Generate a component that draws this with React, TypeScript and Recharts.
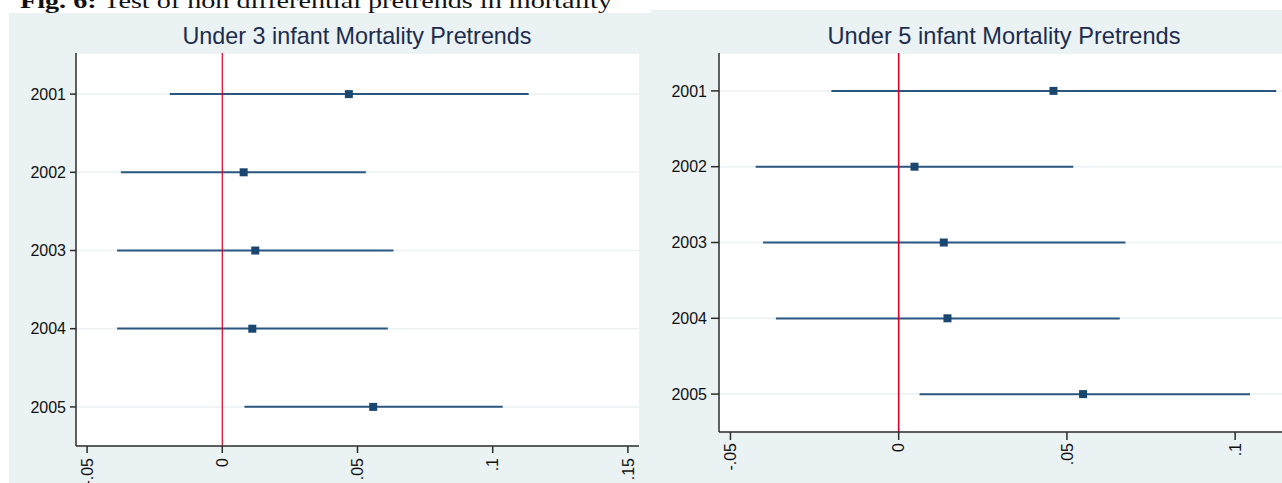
import React from "react";
import {
  ComposedChart,
  Bar,
  Line,
  XAxis,
  YAxis,
  CartesianGrid,
  ReferenceLine,
} from "recharts";

// Pretrend coefficients with 95% confidence bounds, by birth year
const years = ["2001", "2002", "2003", "2004", "2005"];

const u3Coef = [0.0468, 0.0079, 0.0122, 0.0111, 0.0558];
const u3Lower = [-0.0194, -0.0375, -0.0389, -0.0389, 0.0082];
const u3Upper = [0.1133, 0.0531, 0.0633, 0.0612, 0.1037];

const u5Coef = [0.046, 0.0047, 0.0134, 0.0145, 0.0548];
const u5Lower = [-0.02, -0.0425, -0.0403, -0.0365, 0.0062];
const u5Upper = [0.1122, 0.0519, 0.0674, 0.0657, 0.1044];

const u3Ticks = [-0.05, 0, 0.05, 0.1, 0.15];
const u5Ticks = [-0.05, 0, 0.05, 0.1];

const NAVY = "#1a476f";
const BG = "#eaf2f3";
const FONT = "'Liberation Sans', Arial, sans-serif";

const buildRows = (coef: number[], lo: number[], hi: number[]) =>
  years.map((year, i) => ({ year, coef: coef[i], ci: [lo[i], hi[i]] }));

// stata style numbers: .05, -.05, 0
const fmt = (v: number) => {
  if (v === 0) return "0";
  const s = String(Math.abs(v)).replace(/^0/, "");
  return (v < 0 ? "-" : "") + s;
};

const RotTick = (props: any) => {
  const { x, y, payload } = props;
  return (
    <text
      x={x}
      y={y}
      transform={`rotate(-90, ${x}, ${y})`}
      textAnchor="end"
      dy="0.35em"
      fontSize={16}
      fontFamily={FONT}
      fill="#111"
    >
      {fmt(payload.value)}
    </text>
  );
};

const SquareDot = (props: any) => {
  const { cx, cy, index } = props;
  if (cx == null || cy == null) return <g key={index} />;
  return <rect key={index} x={cx - 4} y={cy - 4} width={8} height={8} fill={NAVY} />;
};

interface PanelProps {
  left: number;
  top: number;
  width: number;
  height: number;
  title: string;
  titleX: number;
  titleY: number;
  titleLen: number;
  data: { year: string; coef: number; ci: number[] }[];
  domain: [number, number];
  ticks: number[];
  yWidth: number;
  xHeight: number;
  marginTop: number;
  marginRight: number;
  bandPad: number;
  xTickSize: number;
  xTickMargin: number;
  yTickSize: number;
  redWidth: number;
}

const Panel: React.FC<PanelProps> = (p) => (
  <div
    style={{
      position: "absolute",
      left: p.left,
      top: p.top,
      width: p.width,
      height: p.height,
      background: BG,
    }}
  >
    <svg
      width={p.width}
      height={p.marginTop}
      style={{ position: "absolute", left: 0, top: 0 }}
    >
      <text
        x={p.titleX}
        y={p.titleY}
        textAnchor="middle"
        fontSize={24}
        fontFamily={FONT}
        fill="#1c2c4e"
        textLength={p.titleLen}
        lengthAdjust="spacingAndGlyphs"
      >
        {p.title}
      </text>
    </svg>
    <ComposedChart
      layout="vertical"
      width={p.width}
      height={p.height}
      data={p.data}
      margin={{ top: p.marginTop, right: p.marginRight, bottom: 0, left: 0 }}
    >
      <CartesianGrid
        vertical={false}
        stroke={BG}
        strokeWidth={1.5}
        fill="#ffffff"
      />
      <XAxis
        type="number"
        domain={p.domain}
        ticks={p.ticks}
        allowDataOverflow
        height={p.xHeight}
        tickSize={p.xTickSize}
        tickMargin={p.xTickMargin}
        axisLine={{ stroke: "#2b2b2b", strokeWidth: 1.5 }}
        tickLine={{ stroke: "#2b2b2b", strokeWidth: 1.5 }}
        tick={<RotTick />}
        interval={0}
      />
      <YAxis
        type="category"
        dataKey="year"
        width={p.yWidth}
        padding={{ top: p.bandPad, bottom: 0 }}
        tickSize={p.yTickSize}
        tickMargin={4}
        axisLine={{ stroke: "#2b2b2b", strokeWidth: 1.5 }}
        tickLine={{ stroke: "#2b2b2b", strokeWidth: 1.5 }}
        tick={{ fontSize: 16, fontFamily: FONT, fill: "#111" }}
        interval={0}
      />
      <Bar dataKey="ci" barSize={2} fill="#2a5680" isAnimationActive={false} />
      <ReferenceLine x={0} stroke="#d6002a" strokeWidth={p.redWidth} />
      <Line
        dataKey="coef"
        stroke="none"
        dot={SquareDot}
        activeDot={false}
        legendType="none"
        isAnimationActive={false}
      />
    </ComposedChart>
  </div>
);

export default function App() {
  return (
    <div
      style={{
        position: "absolute",
        left: 0,
        top: 0,
        width: 1282,
        height: 483,
        overflow: "hidden",
        background: "#ffffff",
      }}
    >
      <svg width={1282} height={14} style={{ position: "absolute", left: 0, top: 0 }}>
        <text
          x={20}
          y={8}
          fontSize={21}
          fontFamily="'Liberation Serif', 'DejaVu Serif', serif"
          fill="#111"
          textLength={592}
          lengthAdjust="spacingAndGlyphs"
        >
          <tspan fontWeight="bold">Fig. 6:</tspan> Test of non differential pretrends in mortality
        </text>
      </svg>
      <Panel
        left={9}
        top={13}
        width={642}
        height={470}
        title="Under 3 infant Mortality Pretrends"
        titleX={348}
        titleY={31}
        titleLen={349}
        data={buildRows(u3Coef, u3Lower, u3Upper)}
        domain={[-0.0541, 0.1541]}
        ticks={u3Ticks}
        yWidth={67}
        xHeight={37}
        marginTop={40}
        marginRight={12}
        bandPad={2}
        xTickSize={7}
        xTickMargin={5}
        yTickSize={6}
        redWidth={1.2}
      />
      <Panel
        left={651}
        top={10}
        width={660}
        height={473}
        title="Under 5 infant Mortality Pretrends"
        titleX={353}
        titleY={34}
        titleLen={353}
        data={buildRows(u5Coef, u5Lower, u5Upper)}
        domain={[-0.0534, 0.116]}
        ticks={u5Ticks}
        yWidth={68}
        xHeight={51}
        marginTop={43}
        marginRight={22}
        bandPad={0}
        xTickSize={8}
        xTickMargin={3}
        yTickSize={8}
        redWidth={1.6}
      />
    </div>
  );
}
